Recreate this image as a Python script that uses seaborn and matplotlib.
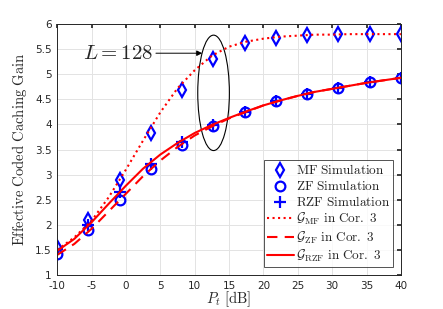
import numpy as np
import pandas as pd
import matplotlib
matplotlib.use("Agg")
import matplotlib.pyplot as plt
from matplotlib.patches import Ellipse
import seaborn as sns

# simulation points
pt_sim = [-10, -5.45, -0.91, 3.64, 8.18, 12.73, 17.27, 21.82, 26.36, 30.91, 35.45, 40]
mf_sim = [1.55, 2.10, 2.90, 3.82, 4.68, 5.30, 5.62, 5.73, 5.78, 5.80, 5.80, 5.80]
zf_sim = [1.42, 1.89, 2.50, 3.12, 3.60, 3.97, 4.25, 4.46, 4.61, 4.73, 4.84, 4.92]
rzf_sim = [1.52, 2.00, 2.65, 3.22, 3.66, 3.99, 4.25, 4.46, 4.61, 4.73, 4.84, 4.92]

# analytical curves (Cor. 3)
pt_th = [-10, -7.5, -5, -2.5, 0, 2.5, 5, 7.5, 10, 12.5, 15, 17.5, 20,
         22.5, 25, 27.5, 30, 32.5, 35, 37.5, 40]
mf_th = [1.50, 1.75, 2.08, 2.55, 3.10, 3.68, 4.24, 4.72, 5.08, 5.37, 5.55, 5.65, 5.71,
         5.75, 5.77, 5.79, 5.79, 5.80, 5.80, 5.80, 5.80]
zf_th = [1.40, 1.62, 1.92, 2.27, 2.62, 2.97, 3.28, 3.55, 3.78, 3.96, 4.12, 4.25, 4.38,
         4.48, 4.57, 4.65, 4.71, 4.77, 4.83, 4.88, 4.93]
rzf_th = [1.48, 1.72, 2.05, 2.42, 2.78, 3.12, 3.40, 3.63, 3.83, 3.99, 4.13, 4.26, 4.38,
          4.48, 4.57, 4.65, 4.71, 4.77, 4.83, 4.88, 4.93]

sns.set_theme(style="whitegrid")
plt.rcParams["mathtext.fontset"] = "cm"
plt.rcParams["font.family"] = ["DejaVu Sans"]
plt.rcParams["axes.unicode_minus"] = False

fig = plt.figure(figsize=(4.43, 3.09), dpi=100)
ax = fig.add_axes([0.129, 0.110, 0.776, 0.812])

sim = pd.DataFrame({"pt": pt_sim, "mf": mf_sim, "zf": zf_sim, "rzf": rzf_sim})
th = pd.DataFrame({"pt": pt_th, "mf": mf_th, "zf": zf_th, "rzf": rzf_th})

blue = "#0000ff"
red = "#ff0000"
sns.lineplot(data=sim, x="pt", y="mf", ax=ax, ls="", marker="d", ms=7.5, mfc="none",
             mec=blue, mew=1.6, label=r"$\mathrm{MF\ Simulation}$")
sns.lineplot(data=sim, x="pt", y="zf", ax=ax, ls="", marker="o", ms=7, mfc="none",
             mec=blue, mew=1.6, label=r"$\mathrm{ZF\ Simulation}$")
sns.lineplot(data=sim, x="pt", y="rzf", ax=ax, ls="", marker="+", ms=8, color=blue,
             mec=blue, mew=1.6, label=r"$\mathrm{RZF\ Simulation}$")
sns.lineplot(data=th, x="pt", y="mf", ax=ax, color=red, ls=":", lw=1.5,
             label=r"$\mathcal{G}_{\rm MF}\ \mathrm{in\ Cor.\ 3}$")
sns.lineplot(data=th, x="pt", y="zf", ax=ax, color=red, ls=(0, (5, 3.5)), lw=1.5,
             label=r"$\mathcal{G}_{\rm ZF}\ \mathrm{in\ Cor.\ 3}$")
sns.lineplot(data=th, x="pt", y="rzf", ax=ax, color=red, ls="-", lw=1.5,
             label=r"$\mathcal{G}_{\rm RZF}\ \mathrm{in\ Cor.\ 3}$")

ax.set_xlim(-10, 40)
ax.set_ylim(1, 6)
ax.set_xticks(np.arange(-10, 41, 5))
ax.set_yticks(np.arange(1, 6.01, 0.5))
ax.set_yticklabels(["1", "1.5", "2", "2.5", "3", "3.5", "4", "4.5", "5", "5.5", "6"])
ax.tick_params(labelsize=7.5, colors="#262626", direction="in", length=3,
               top=True, right=True)
ax.tick_params(axis="x", pad=4)
ax.tick_params(axis="y", pad=4)
ax.grid(True, color="#e3e3e3", lw=0.7)
for s in ax.spines.values():
    s.set_color("#262626")
    s.set_linewidth(0.7)
ax.set_facecolor("white")

ax.set_xlabel(r"$P_t\ \mathrm{[dB]}$", fontsize=10.5, color="#262626", labelpad=-1)
ax.set_ylabel(r"$\mathrm{Effective\ Coded\ Caching\ Gain}$", fontsize=10.5,
              color="#262626", labelpad=4)

# ellipse + annotation
ax.add_patch(Ellipse((12.75, 4.63), 4.6, 2.3, fill=False, ec="black", lw=0.8))
ax.annotate(r"$L=128$", xy=(11.1, 5.42), xytext=(-1.2, 5.42), fontsize=15,
            ha="center", va="center",
            arrowprops=dict(arrowstyle="-|>", color="black", lw=0.7,
                            mutation_scale=8, shrinkA=0, shrinkB=0))

leg = ax.legend(loc="lower right", frameon=True, fancybox=False,
                borderpad=0.25, labelspacing=0.15, handlelength=2.0, handletextpad=0.15,
                borderaxespad=0.6, fontsize=9.5)
leg.get_frame().set_edgecolor("#262626")
leg.get_frame().set_linewidth(0.7)

fig.savefig("out.png", dpi=100)
